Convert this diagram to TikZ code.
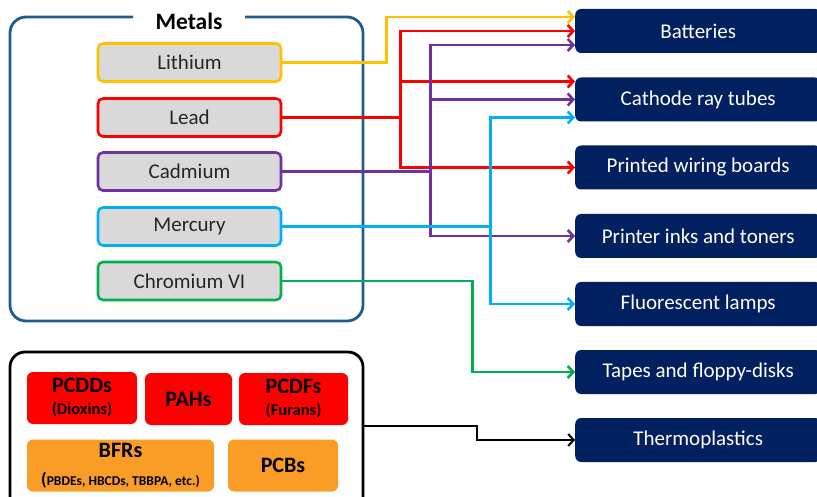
\documentclass[tikz,border=0pt]{standalone}
\usepackage{fontspec}
\setmainfont{Carlito}
\usetikzlibrary{arrows.meta,positioning,calc}
\definecolor{navy}{HTML}{002060}
\definecolor{steel}{HTML}{1F5C8E}
\definecolor{lgray}{HTML}{D9D9D9}
\definecolor{lith}{HTML}{FFC000}
\definecolor{lead}{HTML}{FF0000}
\definecolor{cadm}{HTML}{7030A0}
\definecolor{merc}{HTML}{00B0F0}
\definecolor{chrom}{HTML}{00B050}
\definecolor{popor}{HTML}{F99D27}
\tikzset{
  metal/.style={draw,line width=2.6pt,fill=lgray,rounded corners=5pt,
    minimum width=183pt,minimum height=38pt,text=black!85,
    font=\fontsize{21}{23}\selectfont},
  usebox/.style={fill=navy,rounded corners=6pt,minimum width=246pt,
    minimum height=44pt,anchor=west,text=white,
    font=\fontsize{21}{23}\selectfont},
  popbox/.style={rounded corners=6pt,minimum height=52pt,
    align=center,font=\bfseries\fontsize{22}{24}\selectfont},
  wire/.style={line width=2.6pt,-{Straight Barb[length=5.5pt,width=12pt]}}
}
\begin{document}
\begin{tikzpicture}[x=1pt,y=-1pt]
\useasboundingbox (0,0) rectangle (817,497);
\clip (0,0) rectangle (817,497);

\draw[steel,line width=2.8pt,rounded corners=16pt] (133,17) -- (10,17) -- (10,321) -- (363,321) -- (363,17) -- (245,17);
\node[font=\bfseries\fontsize{23.5}{25}\selectfont] (mtitle) at (189,21) {Metals};

\node[metal,draw=lith] (li) at (189.5,62.5) {Lithium};
\node[metal,draw=lead] (pb) at (189.5,117.5) {Lead};
\node[metal,draw=cadm] (cd) at (189.5,171.5) {Cadmium};
\node[metal,draw=merc] (hg) at (189.5,226.5) {Mercury};
\node[metal,draw=chrom] (cr) at (189.5,281) {Chromium VI};

\node[usebox] (bat) at (575,31) {Batteries};
\node[usebox] (crt) at (575,99.5) {Cathode ray tubes};
\node[usebox] (pwb) at (575,167.5) {Printed wiring boards};
\node[usebox] (ink) at (575,236) {Printer inks and toners};
\node[usebox] (lamp) at (575,304) {Fluorescent lamps};
\node[usebox] (tape) at (575,372) {Tapes and floppy-disks};
\node[usebox] (plast) at (575,440) {Thermoplastics};

\node[draw=black,line width=2.8pt,rounded corners=15pt,minimum width=353pt,minimum height=160pt] (pops) at (186.5,432) {};
\node[popbox,fill=lead,minimum width=110pt] (pcdd) at (82,398) {PCDDs\\[-2pt]{\fontsize{16.5}{18}\selectfont(Dioxins)}};
\node[popbox,fill=lead,minimum width=87pt] (pah) at (188.5,399) {PAHs};
\node[popbox,fill=lead,minimum width=109pt] (pcdf) at (293.5,399) {PCDFs\\[-2pt]{\fontsize{16.5}{18}\selectfont(Furans)}};
\node[popbox,fill=popor,minimum width=187pt] (bfr) at (120.5,465.5) {BFRs\\[4pt]{\fontsize{18}{17}\selectfont(}{\fontsize{13.5}{16}\selectfont PBDEs, HBCDs, TBBPA, etc.)}};
\node[popbox,fill=popor,minimum width=110pt] (pcb) at (283,465.5) {PCBs};

\draw[wire,lith] (li.east) -- ++(104,0) |- ([yshift=14pt]bat.west);

\draw[wire,-,lead] (pb.east) -- ++(118,0) coordinate (pbj);
\foreach \t/\s in {bat/0,crt/18,pwb/0}
  \draw[wire,lead] (pbj) |- ([yshift=\s pt]\t.west);

\draw[wire,-,cadm] (cd.east) -- ++(148,0) coordinate (cdj);
\foreach \t/\s in {bat/-14,crt/0,ink/0}
  \draw[wire,cadm] (cdj) |- ([yshift=\s pt]\t.west);

\draw[wire,-,merc] (hg.east) -- ++(208,0) coordinate (hgj);
\foreach \t/\s in {crt/-18,lamp/0}
  \draw[wire,merc] (hgj) |- ([yshift=\s pt]\t.west);

\draw[wire,chrom] (cr.east) -- ++(190,0) |- (tape.west);

\draw[wire,black,line width=2pt] ([yshift=6pt]pops.east) -- ++(113,0) |- (plast.west);
\end{tikzpicture}
\end{document}
